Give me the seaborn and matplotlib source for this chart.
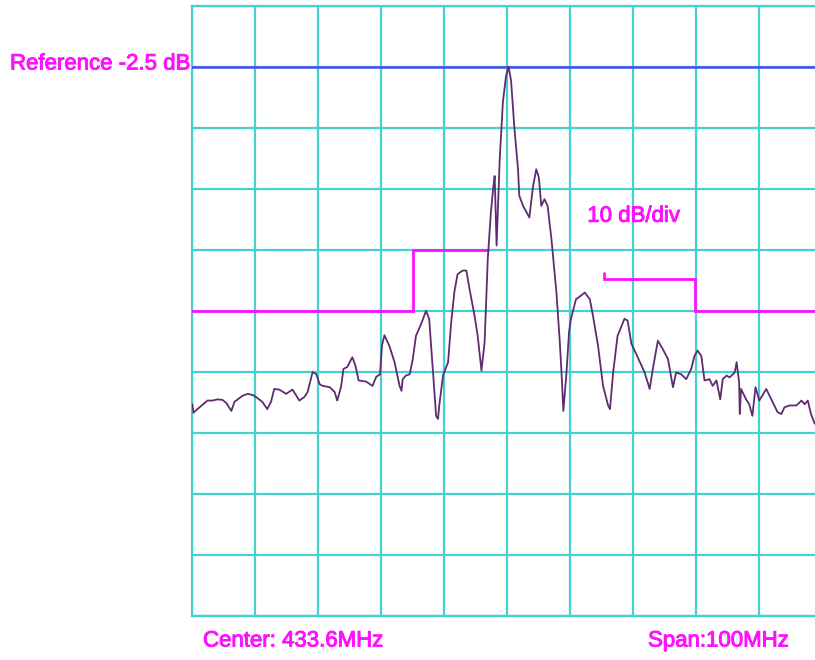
import numpy as np
import pandas as pd
import matplotlib
matplotlib.use("Agg")
import matplotlib.pyplot as plt
import matplotlib.patheffects as pe
import seaborn as sns

# ---- data ----
center_mhz = 433.6
span_mhz = 100.0
ref_level_db = -2.5
db_per_div = 10.0

# trace: frequency offset from centre (MHz) and level (dB)
trace_offset_mhz = [
    -50.0, -49.8, -49.3, -48.4, -47.6, -46.8, -46.0, -45.2, -44.6, -43.8,
    -43.3, -42.0, -41.2, -40.4, -39.9, -38.9, -38.1, -37.5, -37.0, -36.2,
    -35.1, -34.1, -33.5, -33.0, -32.2, -31.7, -30.9, -30.3, -29.8, -29.3,
    -28.2, -27.4, -27.0, -26.4, -26.0, -25.4, -24.6, -24.1, -23.6, -22.4,
    -21.4, -20.8, -20.2, -19.9, -19.5, -18.7, -17.9, -17.1, -16.8, -16.6,
    -16.1, -15.5, -15.0, -14.5, -13.7, -12.9, -12.4, -11.8, -11.3, -11.0,
    -10.8, -10.2, -9.4, -8.9, -8.4, -7.9, -7.1, -6.5, -6.0, -5.2,
    -4.7, -4.1, -3.6, -3.1, -2.6, -2.2, -2.0, -1.7, -1.5, -1.2,
    -0.7, -0.2, 0.2, 0.6, 1.1, 1.7, 1.9, 2.5, 3.5, 4.1,
    4.6, 5.0, 5.4, 5.9, 6.4, 7.0, 7.8, 8.3, 8.6, 8.9,
    9.4, 9.8, 10.1, 10.9, 11.7, 12.3, 13.1, 13.6, 14.4, 15.2,
    16.0, 16.3, 16.8, 17.5, 18.6, 19.1, 19.7, 20.7, 21.8, 22.6,
    23.1, 23.9, 24.7, 25.5, 26.3, 26.8, 27.6, 28.4, 29.2, 29.7,
    30.2, 30.8, 31.3, 32.1, 32.6, 33.2, 33.8, 34.2, 34.8, 35.3,
    36.1, 36.4, 36.8, 36.9, 37.1, 37.9, 38.4, 38.9, 39.4, 40.0,
    41.1, 41.9, 42.9, 43.5, 44.0, 44.8, 45.9, 46.7, 47.2, 47.7,
    48.2, 48.8,
]
trace_level_db = [
    -57.8, -59.2, -58.7, -57.9, -57.2, -57.2, -57.0, -57.1, -57.6, -58.9,
    -57.4, -56.4, -56.1, -56.3, -56.6, -57.4, -58.6, -57.4, -55.3, -55.4,
    -56.1, -55.4, -56.4, -57.2, -56.6, -55.8, -52.5, -52.9, -54.5, -54.8,
    -55.0, -55.8, -57.2, -55.0, -52.0, -51.7, -50.1, -51.5, -53.9, -54.1,
    -54.8, -53.3, -52.9, -48.2, -46.5, -48.3, -50.9, -54.8, -55.6, -53.7,
    -53.1, -52.9, -50.4, -46.6, -44.7, -42.5, -43.8, -52.5, -59.7, -60.2,
    -58.0, -53.1, -50.9, -44.3, -39.4, -36.5, -35.9, -35.9, -38.9, -43.3,
    -46.6, -52.3, -47.6, -34.0, -26.3, -22.0, -20.4, -31.8, -26.3, -17.6,
    -8.3, -4.0, -2.5, -4.8, -12.2, -19.3, -23.6, -25.3, -27.2, -22.0,
    -19.3, -20.6, -25.3, -24.2, -25.3, -30.7, -39.5, -47.1, -52.5, -58.9,
    -52.5, -46.0, -43.8, -40.6, -40.0, -39.5, -40.6, -43.3, -48.2, -54.8,
    -58.0, -58.6, -52.6, -46.6, -43.8, -44.1, -47.9, -50.1, -52.6, -55.3,
    -52.0, -47.4, -48.8, -50.4, -55.0, -52.6, -52.9, -53.7, -52.0, -49.9,
    -49.0, -49.9, -53.9, -53.7, -54.8, -53.9, -57.0, -53.7, -53.1, -53.4,
    -52.6, -50.9, -54.2, -59.4, -55.3, -57.0, -57.8, -59.7, -55.0, -57.2,
    -55.3, -57.0, -59.1, -59.4, -58.3, -58.0, -58.0, -57.2, -57.8, -57.2,
    -59.4, -61.0,
]

# limit mask (magenta), left part and right part
mask_left_offset_mhz = [-50.0, -15.0, -15.0, -3.0]
mask_left_level_db = [-42.5, -42.5, -32.5, -32.5]
mask_right_offset_mhz = [15.4, 15.4, 29.8, 29.8, 50.0]
mask_right_level_db = [-36.3, -37.2, -37.2, -42.5, -42.5]

ref_label = "Reference -2.5 dB"
scale_label = "10 dB/div"
center_label = "Center: 433.6MHz"
span_label = "Span:100MHz"

# ---- styling ----
sns.set_theme(style="white")
plt.rcParams['font.family'] = ['Liberation Sans', 'DejaVu Sans']

GRID = "#45d0d2"
MAGENTA = "#ff10ff"
BLUE = "#4c4ce6"
TRACE = "#5e2c70"

W, H = 815, 660
fig = plt.figure(figsize=(W / 100, H / 100), dpi=100)
fig.patch.set_facecolor("white")
left_px, top_px, width_px, height_px = 192.3, 5.7, 630.0, 610.3
ax = fig.add_axes([left_px / W, 1 - (top_px + height_px) / H, width_px / W, height_px / H])
ax.set_facecolor("white")

fmin = center_mhz - span_mhz / 2
fmax = center_mhz + span_mhz / 2
ytop = ref_level_db + db_per_div
ybot = ref_level_db - 9 * db_per_div
ax.set_xlim(fmin, fmax)
ax.set_ylim(ybot, ytop)
ax.set_xticks(np.arange(fmin, fmax + 0.01, span_mhz / 10))
ax.set_yticks(np.arange(ybot, ytop + 0.01, db_per_div))
ax.grid(True, color=GRID, linewidth=1.6)
ax.tick_params(length=0, labelbottom=False, labelleft=False)
for s in ax.spines.values():
    s.set_color(GRID)
    s.set_linewidth(1.6)

df = pd.DataFrame({
    "freq": np.array(trace_offset_mhz) + center_mhz,
    "level": trace_level_db,
})

# reference line
ax.axhline(ref_level_db, color=BLUE, linewidth=1.8, zorder=3)

# mask
ml = pd.DataFrame({"freq": np.array(mask_left_offset_mhz) + center_mhz, "level": mask_left_level_db})
mr = pd.DataFrame({"freq": np.array(mask_right_offset_mhz) + center_mhz, "level": mask_right_level_db})
ax.plot(ml["freq"], ml["level"], color=MAGENTA, linewidth=2.0, zorder=4, solid_joinstyle="miter")
ax.plot(mr["freq"], mr["level"], color=MAGENTA, linewidth=2.0, zorder=4, solid_joinstyle="miter")

# trace
sns.lineplot(data=df, x="freq", y="level", ax=ax, color=TRACE, linewidth=1.3,
             estimator=None, sort=False, zorder=5)
ax.set_xlabel("")
ax.set_ylabel("")

# texts
fs = 16
heavy = [pe.withStroke(linewidth=0.7, foreground=MAGENTA)]
fig.text(10 / W, 1 - 64 / H, ref_label, color=MAGENTA, fontsize=fs, va="center", ha="left",
         path_effects=heavy)
ax.text(center_mhz + 12.7, -27.0, scale_label, color=MAGENTA, fontsize=fs, va="center", ha="left",
        path_effects=heavy)
fig.text(203 / W, 1 - 641 / H, center_label, color=MAGENTA, fontsize=fs, va="center", ha="left",
         path_effects=heavy)
fig.text(648 / W, 1 - 641 / H, span_label, color=MAGENTA, fontsize=fs, va="center", ha="left",
         path_effects=heavy)

fig.savefig("out.png", dpi=100, facecolor="white")
